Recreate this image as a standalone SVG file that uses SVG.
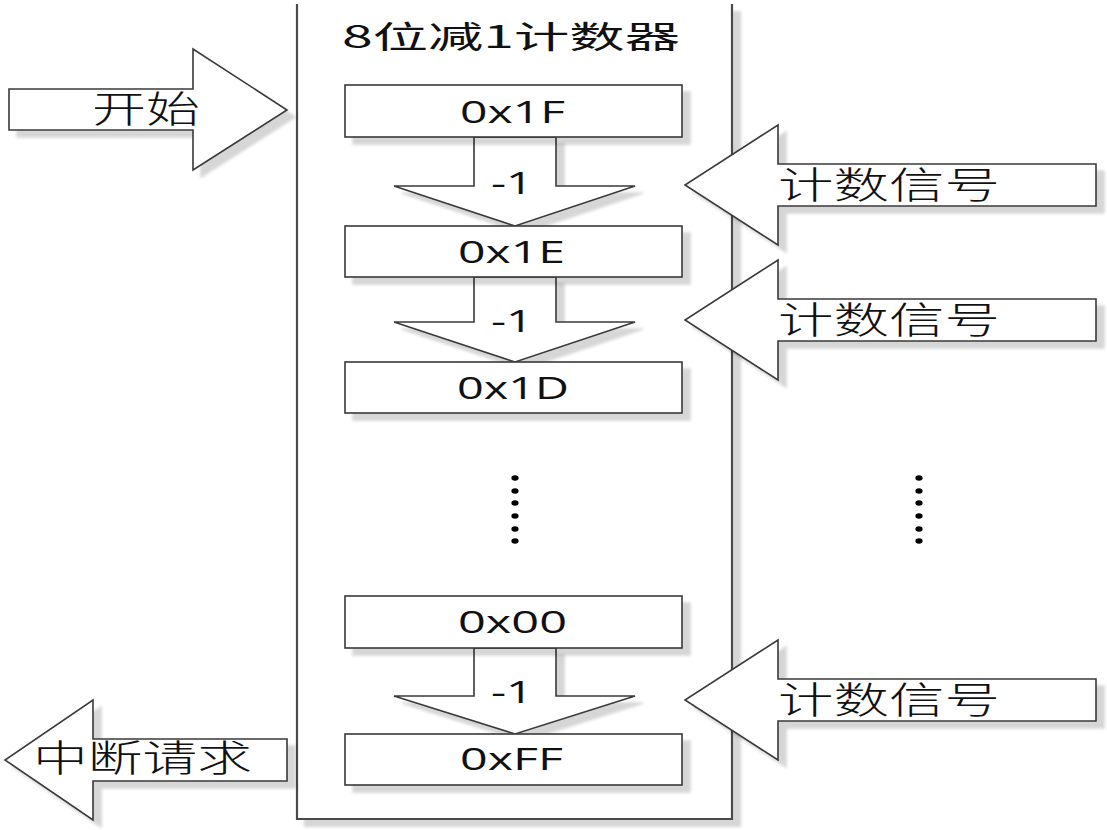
<svg xmlns="http://www.w3.org/2000/svg" width="1107" height="830" viewBox="0 0 1107 830">
<style>
.shape{fill:#fff;stroke:#3a3a3a;stroke-width:1.6;filter:url(#sh)}
.frame{fill:#fff;stroke:#4a4a4a;stroke-width:2.2;filter:url(#sh)}
.hex{font-family:"Open Sans","Liberation Sans",sans-serif;font-size:31px;fill:#111}
.song{font-family:"Noto Sans CJK SC",sans-serif;font-weight:300;font-size:37px;fill:#111}
.title{font-family:"Noto Sans CJK SC",sans-serif;font-weight:400;font-size:31px;fill:#111}
.dot{fill:#000}
</style>
<defs>
<filter id="sh" x="-10%" y="-10%" width="130%" height="130%">
<feDropShadow dx="8" dy="7" stdDeviation="1.5" flood-color="#000" flood-opacity="0.16"/>
</filter>
</defs>
<g id="counter-frame">
<path class="frame" d="M297,4 V819 H732 V4"/>
<text class="title" x="342" y="48" textLength="338" lengthAdjust="spacingAndGlyphs">8位减1计数器</text>
</g>
<g id="start">
<polygon class="shape" points="9,89 193,89 193,49 287,110 193,170 193,130 9,130"/>
<text class="song" x="92" y="123" textLength="108" lengthAdjust="spacingAndGlyphs">开始</text>
</g>
<g id="irq">
<polygon class="shape" points="287,739 93,739 93,700 5,760 93,820 93,781 287,781"/>
<text class="song" x="33" y="772" textLength="219" lengthAdjust="spacingAndGlyphs">中断请求</text>
</g>
<g id="signal1">
<polygon class="shape" points="1096,164 778,164 778,125 685,185 778,245 778,206 1096,206"/>
<text class="song" x="778" y="199" textLength="222" lengthAdjust="spacingAndGlyphs">计数信号</text>
</g>
<g id="signal2">
<polygon class="shape" points="1096,299 778,299 778,260 685,320 778,380 778,341 1096,341"/>
<text class="song" x="778" y="334" textLength="222" lengthAdjust="spacingAndGlyphs">计数信号</text>
</g>
<g id="signal3">
<polygon class="shape" points="1096,679 778,679 778,640 685,700 778,760 778,721 1096,721"/>
<text class="song" x="778" y="714" textLength="222" lengthAdjust="spacingAndGlyphs">计数信号</text>
</g>
<g id="connectors">
<polygon class="shape" points="474,137 556,137 556,186 635,186 515,226 394,186 474,186"/>
<text class="hex" x="491" y="194" textLength="42" lengthAdjust="spacingAndGlyphs">-1</text>
<polygon class="shape" points="474,277 556,277 556,322 635,322 515,362 394,322 474,322"/>
<text class="hex" x="491" y="332" textLength="42" lengthAdjust="spacingAndGlyphs">-1</text>
<polygon class="shape" points="474,648 556,648 556,696 635,696 515,734 394,696 474,696"/>
<text class="hex" x="491" y="703" textLength="42" lengthAdjust="spacingAndGlyphs">-1</text>
</g>
<g id="box-1F">
<rect class="shape" x="345" y="85" width="337" height="52"/>
<text class="hex" x="460" y="123" textLength="105" lengthAdjust="spacingAndGlyphs">0x1F</text>
</g>
<g id="box-1E">
<rect class="shape" x="345" y="226" width="337" height="51"/>
<text class="hex" x="458" y="263" textLength="107" lengthAdjust="spacingAndGlyphs">0x1E</text>
</g>
<g id="box-1D">
<rect class="shape" x="345" y="362" width="337" height="51"/>
<text class="hex" x="457" y="399" textLength="112" lengthAdjust="spacingAndGlyphs">0x1D</text>
</g>
<g id="box-00">
<rect class="shape" x="345" y="596" width="337" height="52"/>
<text class="hex" x="458" y="633" textLength="109" lengthAdjust="spacingAndGlyphs">0x00</text>
</g>
<g id="box-FF">
<rect class="shape" x="345" y="734" width="337" height="51"/>
<text class="hex" x="460" y="770" textLength="103" lengthAdjust="spacingAndGlyphs">0xFF</text>
</g>
<g id="ellipsis-left">
<ellipse class="dot" cx="515" cy="478" rx="3.6" ry="2.7"/>
<ellipse class="dot" cx="515" cy="491" rx="3.6" ry="2.7"/>
<ellipse class="dot" cx="515" cy="503" rx="3.6" ry="2.7"/>
<ellipse class="dot" cx="515" cy="516" rx="3.6" ry="2.7"/>
<ellipse class="dot" cx="515" cy="529" rx="3.6" ry="2.7"/>
<ellipse class="dot" cx="515" cy="541" rx="3.6" ry="2.7"/>
</g>
<g id="ellipsis-right">
<ellipse class="dot" cx="919" cy="478" rx="3.6" ry="2.7"/>
<ellipse class="dot" cx="919" cy="491" rx="3.6" ry="2.7"/>
<ellipse class="dot" cx="919" cy="503" rx="3.6" ry="2.7"/>
<ellipse class="dot" cx="919" cy="516" rx="3.6" ry="2.7"/>
<ellipse class="dot" cx="919" cy="529" rx="3.6" ry="2.7"/>
<ellipse class="dot" cx="919" cy="541" rx="3.6" ry="2.7"/>
</g>
</svg>
